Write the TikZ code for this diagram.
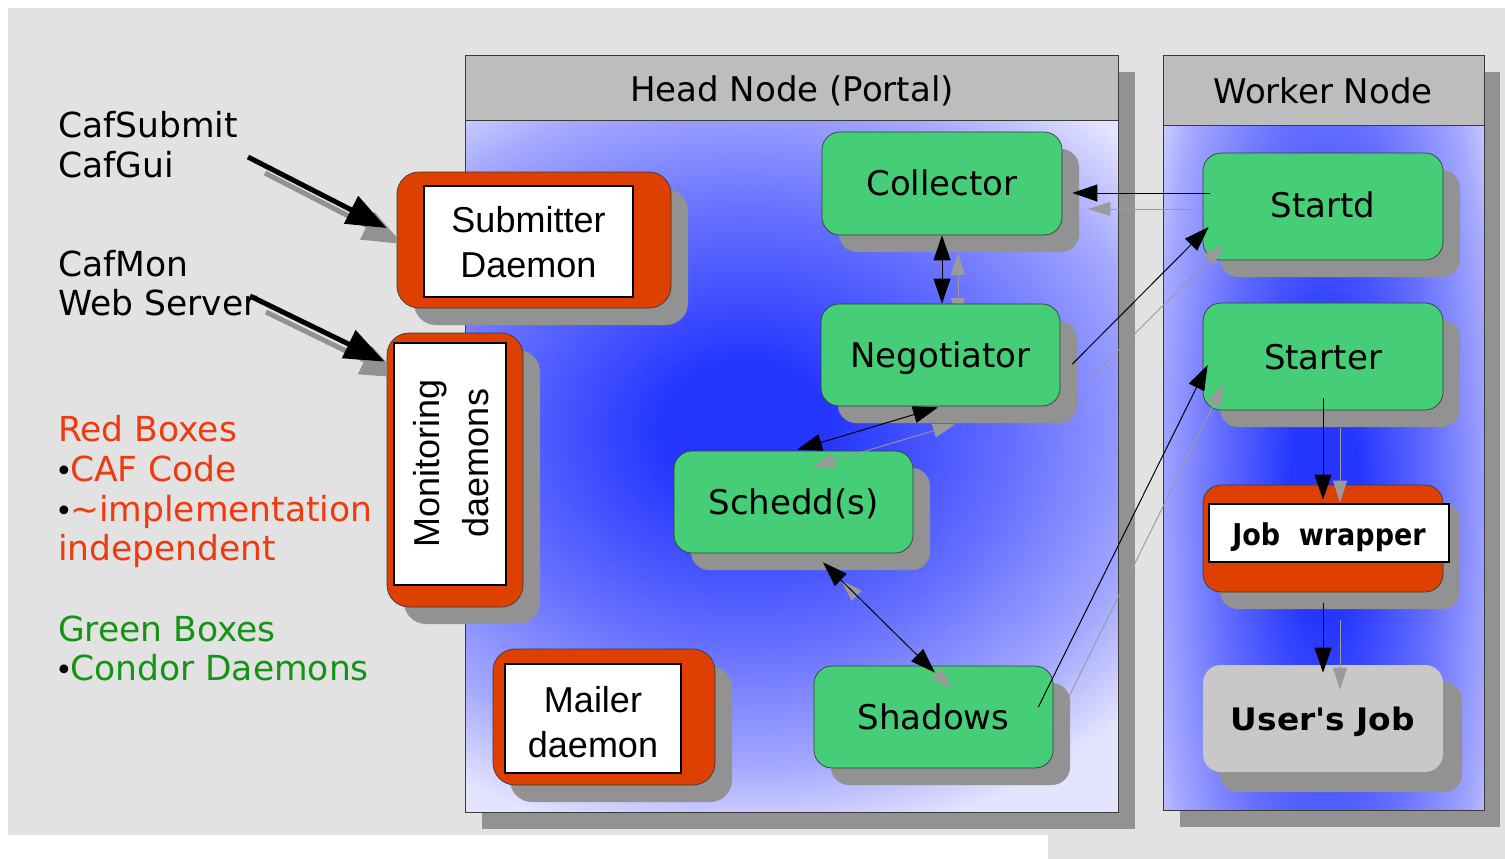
\documentclass[tikz,border=0pt]{standalone}
\usepackage{fontspec}
\setmainfont{DejaVu Sans}[Ligatures=TeXOff]
\newfontfamily\arialf{Liberation Sans}[Ligatures=TeXOff]
\usetikzlibrary{arrows.meta,calc}
\definecolor{bggray}{HTML}{E2E2E2}
\definecolor{hdrgray}{HTML}{BDBDBD}
\definecolor{shgray}{HTML}{929292}
\definecolor{cgreen}{HTML}{46CD78}
\definecolor{cred}{HTML}{DD4000}
\definecolor{ujgray}{HTML}{C8C8C8}
\definecolor{txtred}{HTML}{EE3A0E}
\definecolor{txtgreen}{HTML}{149414}
\definecolor{gblue}{HTML}{2436FF}
\definecolor{gmid}{HTML}{6670FF}
\definecolor{glite}{HTML}{A4A8FF}
\definecolor{gpale}{HTML}{E4E4FF}
\definecolor{arrgray}{HTML}{9A9A9A}
\definecolor{edge}{HTML}{3A3A3A}
\pgfdeclareradialshading{panelshade}{\pgfpoint{0bp}{0bp}}{color(0bp)=(gblue); color(4bp)=(gblue); color(13bp)=(gmid); color(20bp)=(glite); color(25bp)=(gpale); color(50bp)=(gpale)}
\newcommand{\myfs}[1]{\fontsize{#1}{#1}\selectfont}
\newcommand{\bul}{\makebox[12pt][c]{\myfs{30}\textcolor{black}{•}}}

\begin{document}
\begin{tikzpicture}[x=1pt,y=-1pt,
  gbox/.style={draw=edge, line width=0.7pt, fill=cgreen, rounded corners=18pt, minimum width=240pt, minimum height=103pt, inner sep=0pt},
  shbox/.style={draw=none, fill=shgray, rounded corners=18pt, inner sep=0pt},
  rbox/.style={draw=edge, line width=0.7pt, fill=cred, rounded corners=22pt, inner sep=0pt},
  wbox/.style={draw=black, line width=2.5pt, fill=white, inner sep=0pt},
  lbl/.style={inner sep=0pt, anchor=base, font=\myfs{34}},
  rlbl/.style={inner sep=0pt, anchor=base, font=\arialf\myfs{36}},
  leg/.style={inner sep=0pt, anchor=base west, font=\myfs{34.5}},
  panelline/.style={draw=edge, line width=0.8pt},
  blk/.style={draw=black, line width=1pt, -{Triangle[length=25pt,width=17pt]}},
  blkb/.style={draw=black, line width=1pt, {Triangle[length=25pt,width=17pt]}-{Triangle[length=25pt,width=17pt]}},
  gry/.style={draw=arrgray, line width=0.9pt, -{Triangle[length=22pt,width=14pt]}},
  gryb/.style={draw=arrgray, line width=0.9pt, {Triangle[length=22pt,width=14pt]}-{Triangle[length=22pt,width=14pt]}},
  thickblk/.style={draw=black, line width=5pt, -{Triangle[length=40pt,width=30pt]}},
  thickgry/.style={draw=shgray, line width=5pt, -{Triangle[length=40pt,width=30pt]}}
]
\useasboundingbox (0,0) rectangle (1505,859);
% background
\fill[bggray] (8,8) rectangle (1505,835);
\fill[bggray] (1048,835) rectangle (1505,859);

% Head node panel
\fill[shgray] (482,72) rectangle (1135,829);
\begin{scope}
  \clip (465,120) rectangle (1118,812);
  \fill[gpale] (465,120) rectangle (1118,812);
  \shade[shading=panelshade] (745,430) ellipse [x radius=520, y radius=420];
\end{scope}
\draw[panelline] (465,120) rectangle (1118,812);
\fill[hdrgray] (465,55) rectangle (1118,120);
\draw[panelline] (465,55) rectangle (1118,120);
\node[lbl] (headt) at (792,102) {Head Node (Portal)};

% Worker node panel
\fill[shgray] (1180,72) rectangle (1500,827);
\begin{scope}
  \clip (1163,125) rectangle (1484,810);
  \fill[gpale] (1163,125) rectangle (1484,810);
  \shade[shading=panelshade] (1325,500) ellipse [x radius=210, y radius=760];
\end{scope}
\draw[panelline] (1163,125) rectangle (1484,810);
\fill[hdrgray] (1163,55) rectangle (1484,125);
\draw[panelline] (1163,55) rectangle (1484,125);
\node[lbl] (workt) at (1323,103) {Worker Node};

% free ends of the input arrows
\coordinate (subsrc) at (248,157);
\coordinate (monsrc) at (250,296);

% red boxes
\node[shbox, minimum width=274pt, minimum height=136pt, rounded corners=22pt] (subsh) at (551,257) {};
\node[shbox, minimum width=136pt, minimum height=274pt, rounded corners=22pt] (monsh) at (472,487) {};
\node[shbox, minimum width=222pt, minimum height=136pt, rounded corners=22pt] (mailsh) at (621,734) {};
\node[rbox, minimum width=274pt, minimum height=136pt] (subm) at (534,240) {};
\node[rbox, minimum width=136pt, minimum height=274pt] (mon) at (455,470) {};
\node[rbox, minimum width=222pt, minimum height=136pt] (mail) at (604,717) {};
\node[wbox, minimum width=209pt, minimum height=111pt] (submw) at (528.5,241.5) {};
\node[wbox, minimum width=112pt, minimum height=242pt] (monw) at (450,464) {};
\node[wbox, minimum width=176pt, minimum height=109pt] (mailw) at (593,718.5) {};

% thick input arrows with shadows
\coordinate (subtip) at ($(subm.west)+(-10,-12)$);
\coordinate (montip) at ($(mon.north west)+(-2,29)$);
\begin{scope}
  \clip (0,0) rectangle (397,859);
  \draw[thickgry] ($(subsrc)+(17,16)$) -- ($(subtip)+(16,16)$);
\end{scope}
\begin{scope}
  \clip (0,0) rectangle (387,859);
  \draw[thickgry] ($(monsrc)+(16,16)$) -- ($(montip)+(16,16)$);
\end{scope}
\draw[thickblk] (subsrc) -- (subtip);
\draw[thickblk] (monsrc) -- (montip);

% green / gray box shadows
\node[shbox, minimum width=240pt, minimum height=103pt] (collsh) at (959,200.5) {};
\node[shbox, minimum width=239pt, minimum height=102pt] (negosh) at (957.5,372) {};
\node[shbox, minimum width=239pt, minimum height=102pt] (scheddsh) at (810.5,519) {};
\node[shbox, minimum width=239pt, minimum height=102pt] (shadsh) at (950.5,734) {};
\node[shbox, minimum width=240pt, minimum height=107pt] (startdsh) at (1340,223.5) {};
\node[shbox, minimum width=240pt, minimum height=107pt] (startersh) at (1340,373.5) {};
\node[shbox, minimum width=240pt, minimum height=107pt] (jobwsh) at (1340,555.5) {};
\node[shbox, minimum width=242pt, minimum height=110pt] (userjsh) at (1341,737) {};

% gray shadow of Collector <-> Negotiator (below boxes)
\draw[gryb] (958,253) -- (958,320);

% green boxes
\node[gbox] (coll) at (942,183.5) {};
\node[gbox, minimum width=239pt, minimum height=102pt] (nego) at (940.5,355) {};
\node[gbox, minimum width=239pt, minimum height=102pt] (schedd) at (793.5,502) {};
\node[gbox, minimum width=239pt, minimum height=102pt] (shad) at (933.5,717) {};
\node[gbox, minimum height=107pt] (startd) at (1323,206.5) {};
\node[gbox, minimum height=107pt] (starter) at (1323,356.5) {};
\node[rbox, minimum width=240pt, minimum height=107pt, rounded corners=18pt] (jobw) at (1323,538.5) {};
\node[wbox, minimum width=240pt, minimum height=58pt] (jobww) at (1329,533) {};
\node[gbox, fill=ujgray, draw=none, minimum height=107pt] (userj) at (1323,718.5) {};

% connector end points
\coordinate (a1s) at ($(startd.west)+(7,-13.5)$);
\coordinate (a1e) at ($(coll.east)+(10,9.5)$);
\coordinate (a2s) at (coll.south);
\coordinate (a2e) at (coll.south |- nego.north);
\coordinate (a3s) at ($(nego.east)+(12,9)$);
\coordinate (a3e) at ($(startd.west)+(6,20.5)$);
\coordinate (a4s) at ($(nego.south)+(-2.5,1)$);
\coordinate (a4e) at ($(schedd.north)+(3.5,-1)$);
\coordinate (a5s) at ($(schedd.south)+(29.5,9)$);
\coordinate (a5e) at ($(shad.north)+(1.5,7)$);
\coordinate (a6s) at ($(shad.east)+(-15,-10)$);
\coordinate (a6e) at ($(starter.west)+(5,8.5)$);
\coordinate (a7s) at ($(starter.south)+(0,-12)$);
\coordinate (a7e) at ($(jobw.north)+(0,15)$);
\coordinate (a8s) at ($(jobw.south)+(0,11)$);
\coordinate (a8e) at ($(userj.north)+(0,8)$);

% gray connector shadows
\draw[gry] ($(a1s)+(18,16)$) -- ($(a1e)+(16,16)$);
\draw[gry] ($(a3s)+(16,16)$) -- ($(a3e)+(16,17)$);
\draw[gryb] ($(a4s)+(17,17)$) -- ($(a4e)+(16,17)$);
\draw[gryb] ($(a5s)+(18,18)$) -- ($(a5e)+(17,16)$);
\draw[gry] ($(a6s)+(17,17)$) -- ($(a6e)+(16,19)$);
\draw[gry] ($(a7s)+(17,30)$) -- ($(a7e)+(17,3)$);
\draw[gry] ($(a8s)+(17,17)$) -- ($(a8e)+(17,17)$);

% black connectors
\draw[blk] (a1s) -- (a1e);
\draw[blkb] (a2s) -- (a2e);
\draw[blk] (a3s) -- (a3e);
\draw[blkb] (a4s) -- (a4e);
\draw[blkb] (a5s) -- (a5e);
\draw[blk] (a6s) -- (a6e);
\draw[blk] (a7s) -- (a7e);
\draw[blk] (a8s) -- (a8e);

% box labels
\node[lbl] (collt) at (942,195) {Collector};
\node[lbl] (negot) at (940.5,367) {Negotiator};
\node[lbl] (scheddt) at (793.5,514) {Schedd(s)};
\node[lbl] (shadt) at (933.5,729) {Shadows};
\node[lbl] (startdt) at (1323,217) {Startd};
\node[lbl] (startert) at (1323,369) {Starter};
\node[lbl, font=\bfseries\myfs{30}] (jobwt) at (1329,545) {\scalebox{0.9}[1]{Job\ \ wrapper}};
\node[lbl, font=\bfseries\myfs{31}] (userjt) at (1323,730) {\scalebox{1.06}[1]{User's Job}};
\node[rlbl] (submt1) at (528.5,232) {Submitter};
\node[rlbl] (submt2) at (528.5,277) {Daemon};
\node[rlbl] (mailt1) at (593,712) {Mailer};
\node[rlbl] (mailt2) at (593,757) {daemon};
\node[rlbl, rotate=90] (mont1) at (439,463) {Monitoring};
\node[rlbl, rotate=90] (mont2) at (488,463) {daemons};

% legend texts
\node[leg] (l1) at (58,137) {CafSubmit};
\node[leg] (l2) at (58,177) {CafGui};
\node[leg] (l3) at (58,276) {CafMon};
\node[leg] (l4) at (58,315) {Web Server};
\node[leg, text=txtred] (l5) at (58,441) {Red Boxes};
\node[leg, text=txtred] (l6) at (58,481) {\bul CAF Code};
\node[leg, text=txtred] (l7) at (58,521) {\bul\textasciitilde implementation};
\node[leg, text=txtred] (l8) at (58,560) {independent};
\node[leg, text=txtgreen] (l9) at (58,641) {Green Boxes};
\node[leg, text=txtgreen] (l10) at (58,680) {\bul Condor Daemons};
\end{tikzpicture}
\end{document}
